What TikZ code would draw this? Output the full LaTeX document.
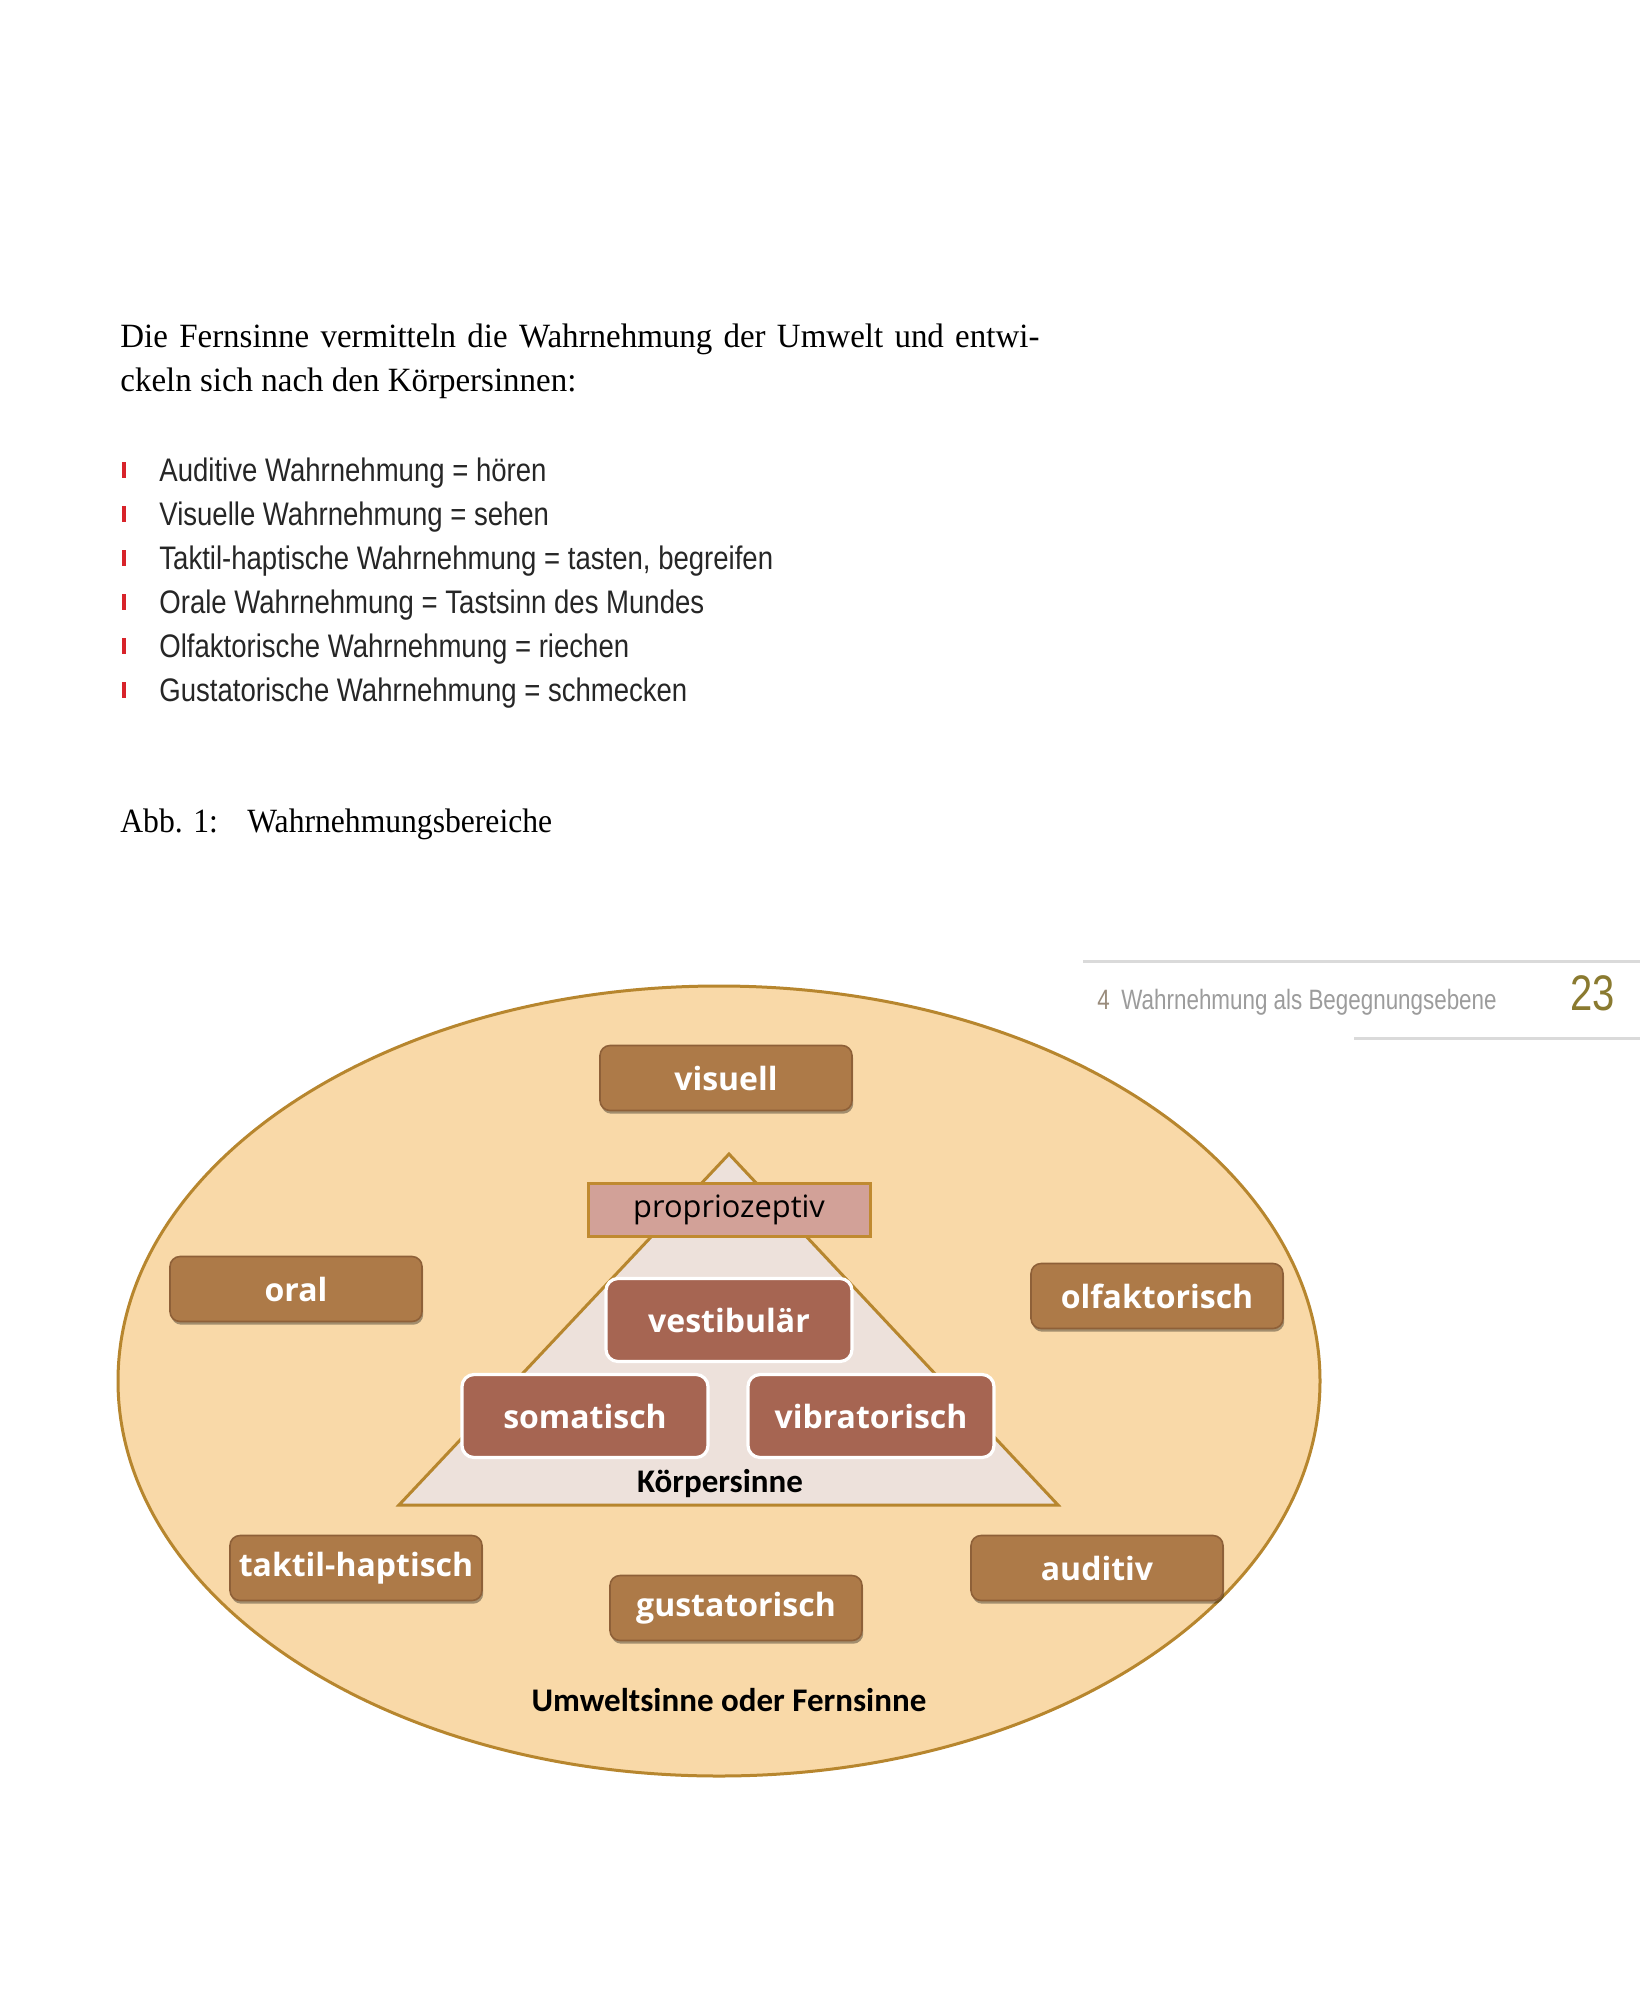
\documentclass[tikz,border=0pt]{standalone}
\usepackage{fontspec}
\setmainfont{Liberation Serif}
\newfontfamily\serifc[FakeStretch=0.97]{Liberation Serif}
\newfontfamily\serifcc[FakeStretch=0.93]{Liberation Serif}
\newfontfamily\sansc[FakeStretch=0.845]{Liberation Sans}
\newfontfamily\sanscc[FakeStretch=0.8]{Liberation Sans}
\newfontfamily\boxf{Open Sans}
\newfontfamily\calf{Carlito}
\usetikzlibrary{shadows}
\definecolor{ellfill}{HTML}{F9D9A8}
\definecolor{ellline}{HTML}{B7862E}
\definecolor{bbrown}{HTML}{AD7A48}
\definecolor{bbrownd}{HTML}{8E6038}
\definecolor{trifill}{HTML}{EDE1DB}
\definecolor{propfill}{HTML}{D2A198}
\definecolor{propline}{HTML}{C08A30}
\definecolor{rbrown}{HTML}{A66552}
\definecolor{bulletred}{HTML}{D8232A}
\definecolor{hdrgray}{HTML}{9C9C9C}
\definecolor{hdrfour}{HTML}{9A8C7C}
\definecolor{hdrline}{HTML}{DADADA}
\definecolor{pagenum}{HTML}{8A7A30}
\begin{document}
\begin{tikzpicture}[x=0.5pt,y=-0.5pt,
  para/.style={anchor=base west, inner sep=0pt, font=\serifc\fontsize{17}{22}\selectfont},
  capt/.style={anchor=base west, inner sep=0pt, font=\serifcc\fontsize{17}{22}\selectfont},
  item/.style={anchor=base west, inner sep=0pt, font=\sansc\fontsize{16.3}{20}\selectfont, text=black!85},
  bul/.style={fill=bulletred, draw=none},
  brownbox/.style={rounded corners=5pt, fill=bbrown, draw=bbrownd, line width=0.8pt,
    minimum width=126pt, minimum height=32.5pt, inner sep=0pt, text=white,
    font=\boxf\bfseries\fontsize{16}{18}\selectfont,
    drop shadow={shadow xshift=0.6pt, shadow yshift=-1.6pt, opacity=0.35, fill=black}},
  redbox/.style={rounded corners=6pt, fill=rbrown, draw=white, line width=1.6pt,
    minimum width=123pt, minimum height=41.5pt, inner sep=0pt, text=white,
    font=\boxf\bfseries\fontsize{16}{18}\selectfont},
  propbox/.style={fill=propfill, draw=propline, line width=1.5pt,
    minimum width=141pt, minimum height=26.5pt, inner sep=0pt, text=black,
    font=\boxf\fontsize{15.4}{17}\selectfont},
  lbl/.style={inner sep=0pt, text=black, font=\calf\bfseries\fontsize{16.5}{18}\selectfont}
]
\useasboundingbox (0,0) rectangle (1640,2000);
\fill[white] (0,0) rectangle (1640,2000);

% paragraph
\node[para] (p1) at (120,348) {\makebox[459.5pt][s]{Die Fernsinne vermitteln die Wahrnehmung der Umwelt und entwi-}};
\node[para] (p2) at (120,392) {ckeln sich nach den Körpersinnen:};

% bullet list
\foreach \y in {481,525,569,613,657,701}{
  \fill[bul] (121.5,\y-19) rectangle (126,\y-3);
}
\node[item] (b1) at (159,481) {Auditive Wahrnehmung = hören};
\node[item] (b2) at (159,525) {Visuelle Wahrnehmung = sehen};
\node[item] (b3) at (159,569) {Taktil-haptische Wahrnehmung = tasten, begreifen};
\node[item] (b4) at (159,613) {Orale Wahrnehmung = Tastsinn des Mundes};
\node[item] (b5) at (159,657) {Olfaktorische Wahrnehmung = riechen};
\node[item] (b6) at (159,701) {Gustatorische Wahrnehmung = schmecken};

% caption
\node[capt] (cap1) at (120,832) {Abb. 1:};
\node[capt] (cap2) at (247,832) {Wahrnehmungsbereiche};

% header
\draw[hdrline, line width=1.5pt] (1083,961) -- (1640,961);
\draw[hdrline, line width=1.5pt] (1354,1038) -- (1640,1038);
\node[anchor=base west, inner sep=0pt, text=hdrfour, font=\sanscc\fontsize{14}{16}\selectfont] (h4) at (1097,1009) {4};
\node[anchor=base west, inner sep=0pt, text=hdrgray, font=\sanscc\fontsize{14}{16}\selectfont] (ht) at (1121,1009) {Wahrnehmung als Begegnungsebene};
\node[anchor=base west, inner sep=0pt, text=pagenum, font=\sanscc\fontsize{25}{28}\selectfont] (pg) at (1570,1010) {23};

% ellipse
\draw[fill=ellfill, draw=ellline, line width=1.5pt] (719,1381) ellipse [x radius=601, y radius=395];

% triangle
\coordinate (ta) at (729,1154);
\coordinate (tr) at (1058,1505);
\coordinate (tl) at (399,1505);
\draw[fill=trifill, draw=ellline, line width=1.5pt] (ta) -- (tr) -- (tl) -- cycle;

% proprioceptive
\node[propbox] (prop) at (729,1210) {\raisebox{-1pt}{propriozeptiv}};

% body senses
\node[redbox] (vest) at (729,1320) {vestibulär};
\node[redbox] (soma) at (585,1416) {somatisch};
\node[redbox] (vibr) at (871,1416) {vibratorisch};
\node[lbl] (koer) at (720,1484) {Körpersinne};

% distance senses
\node[brownbox] (vis) at (726,1078) {visuell};
\node[brownbox] (oral) at (296,1289) {oral};
\node[brownbox] (olf) at (1157,1296) {olfaktorisch};
\node[brownbox] (takt) at (356,1568) {taktil-haptisch};
\node[brownbox] (gust) at (736,1608) {gustatorisch};
\node[brownbox] (aud) at (1097,1568) {auditiv};
\node[lbl] (umw) at (729,1700) {Umweltsinne oder Fernsinne};
\end{tikzpicture}
\end{document}
